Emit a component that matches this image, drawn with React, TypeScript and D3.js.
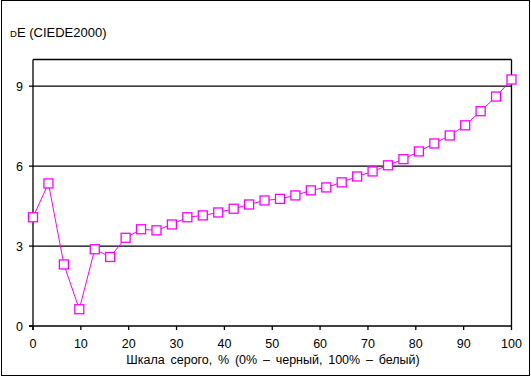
import React from "react";
import * as d3 from "d3";

const grayPercent: number[] = Array.from({ length: 32 }, (_, i) => (i * 100) / 31);
const deValues: number[] = [
  4.08, 5.35, 2.31, 0.63, 2.88, 2.59, 3.31, 3.63, 3.59, 3.81,
  4.08, 4.15, 4.26, 4.4, 4.56, 4.71, 4.77, 4.9, 5.09, 5.2,
  5.39, 5.61, 5.8, 6.03, 6.26, 6.55, 6.85, 7.15, 7.53, 8.06,
  8.61, 9.25,
];
const xTicks: number[] = [0, 10, 20, 30, 40, 50, 60, 70, 80, 90, 100];
const yTicks: number[] = [0, 3, 6, 9];
const xTitle = "Шкала серого, % (0% – черный, 100% – белый)";

const W = 531;
const H = 377;
const left = 33;
const right = 511.5;
const top = 59.5;
const bottom = 326;
const font = "'Liberation Sans', Arial, sans-serif";
const magenta = "#ff00ff";

export default function App() {
  const x = d3.scaleLinear().domain([0, 100]).range([left, right]);
  const y = d3.scaleLinear().domain([0, 10]).range([bottom, top]);
  const line = d3
    .line<number>()
    .x((_, i) => x(grayPercent[i]))
    .y((d) => y(d));
  const ms = 9;
  return (
    <svg
      width={W}
      height={H}
      style={{ position: "absolute", left: 0, top: 0, background: "#fff" }}
      fontFamily={font}
    >
      <rect x={1.5} y={0.5} width={528} height={375} fill="#fff" stroke="#000" strokeWidth={1} />
      <line x1={left} x2={right} y1={top} y2={top} stroke="#000" strokeWidth={1.3} />
      <line x1={right} x2={right} y1={top} y2={bottom} stroke="#000" strokeWidth={1.3} />
      {yTicks
        .filter((t) => t > 0)
        .map((t) => (
          <line key={"g" + t} x1={left} x2={right} y1={y(t)} y2={y(t)} stroke="#000" strokeWidth={1.3} />
        ))}
      <line x1={left} x2={left} y1={top} y2={bottom + 4} stroke="#000" strokeWidth={1.3} />
      <line x1={left - 4} x2={right} y1={bottom} y2={bottom} stroke="#000" strokeWidth={1.3} />
      {yTicks.map((t) => (
        <g key={"y" + t}>
          <line x1={left - 4} x2={left} y1={y(t)} y2={y(t)} stroke="#000" strokeWidth={1.3} />
          <text x={23} y={y(t) + 4.5} fontSize={12.5} textAnchor="end" fill="#000">
            {t}
          </text>
        </g>
      ))}
      {xTicks.map((t) => (
        <g key={"x" + t}>
          <line x1={x(t)} x2={x(t)} y1={bottom} y2={bottom + 4} stroke="#000" strokeWidth={1.3} />
          <text x={x(t)} y={348} fontSize={12.5} textAnchor="middle" fill="#000">
            {t}
          </text>
        </g>
      ))}
      <text x={273} y={364} fontSize={12.5} textAnchor="middle" fill="#000" wordSpacing={2.3}>
        {xTitle}
      </text>
      <text x={10} y={37} fontSize={13} fill="#000">
        <tspan fontSize={9.5}>D</tspan>
        <tspan>E (CIEDE2000)</tspan>
      </text>
      <path d={line(deValues) || ""} fill="none" stroke={magenta} strokeWidth={1} />
      {deValues.map((v, i) => (
        <rect
          key={"m" + i}
          x={x(grayPercent[i]) - ms / 2}
          y={y(v) - ms / 2}
          width={ms}
          height={ms}
          fill="#fff"
          stroke={magenta}
          strokeWidth={1.3}
        />
      ))}
    </svg>
  );
}
